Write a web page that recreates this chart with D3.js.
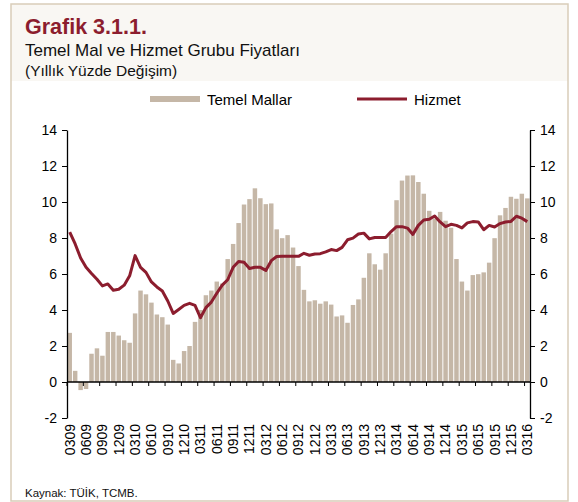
<!DOCTYPE html>
<html>
<head>
<meta charset="utf-8">
<script src="https://cdn.jsdelivr.net/npm/d3@7"></script>
<style>
  body { margin: 0; background: #fff; }
  svg { display: block; font-family: "Liberation Sans", Arial, sans-serif; }
  .axis text { font-size: 14px; fill: #000; }
  .axis path, .axis line { stroke: #000; }
  .x-label { font-size: 14px; fill: #000; }
  .legend-text { font-size: 15px; fill: #000; }
</style>
</head>
<body>
<div id="wrapper"></div>
<script>
// data: monthly, 2009-03 .. 2016-03 (annual % change)
const temelMallar = [
  2.73, 0.62, -0.45, -0.39, 1.57, 1.87, 1.46, 2.78, 2.78, 2.58, 2.32, 2.18,
  3.81, 5.08, 4.87, 4.41, 3.75, 3.60, 3.19, 1.23, 1.03, 1.72, 2.00, 3.34,
  4.00, 4.82, 5.08, 5.58, 5.47, 6.83, 7.67, 8.83, 9.86, 10.16, 10.76, 10.21,
  9.88, 9.92, 8.48, 7.99, 8.16, 7.47, 6.44, 5.12, 4.48, 4.54, 4.35, 4.48,
  4.30, 3.64, 3.70, 3.29, 4.28, 4.59, 5.79, 7.15, 6.54, 6.24, 7.15, 8.24,
  10.10, 11.19, 11.47, 11.48, 11.11, 10.46, 9.51, 9.08, 9.45, 8.96, 8.57, 6.83,
  5.58, 5.08, 5.94, 5.99, 6.09, 6.63, 7.99, 9.26, 9.67, 10.29, 10.18, 10.46,
  10.20,
];
const hizmet = [
  8.33, 7.67, 6.89, 6.37, 6.03, 5.71, 5.34, 5.45, 5.10, 5.15, 5.38, 5.90,
  7.02, 6.37, 6.09, 5.56, 5.28, 5.06, 4.50, 3.81, 4.03, 4.26, 4.37, 4.26,
  3.57, 4.13, 4.44, 4.93, 5.38, 5.68, 6.37, 6.69, 6.65, 6.31, 6.37, 6.37,
  6.20, 6.74, 6.97, 6.98, 6.98, 6.98, 6.98, 7.15, 7.04, 7.11, 7.13, 7.23,
  7.36, 7.30, 7.48, 7.90, 7.99, 8.22, 8.27, 7.95, 8.03, 8.03, 8.03, 8.36,
  8.63, 8.63, 8.55, 8.20, 8.70, 9.00, 9.04, 9.22, 8.89, 8.63, 8.76, 8.70,
  8.56, 8.84, 8.91, 8.89, 8.46, 8.70, 8.61, 8.80, 8.89, 8.92, 9.21, 9.10,
  8.91,
];
const tickLabels = [
  "0309", "0609", "0909", "1209", "0310", "0610", "0910", "1210",
  "0311", "0611", "0911", "1211", "0312", "0612", "0912", "1212",
  "0313", "0613", "0913", "1213", "0314", "0614", "0914", "1214",
  "0315", "0615", "0915", "1215", "0316",
];
const yTicks = [-2, 0, 2, 4, 6, 8, 10, 12, 14];

function drawChart() {
  const months = d3.timeMonth.range(new Date(2009, 2, 1), new Date(2016, 3, 1));
  const formatMonth = d3.timeFormat("%m%y");

  let dimensions = {
    width: 578,
    height: 502,
    plot: { left: 67, right: 530, top: 130, bottom: 418 },
  };

  const svg = d3
    .select("#wrapper")
    .append("svg")
    .attr("width", dimensions.width)
    .attr("height", dimensions.height);

  // frame + header band
  svg.append("rect")
    .attr("x", 11).attr("y", 4)
    .attr("width", 557).attr("height", 77)
    .attr("fill", "#f9f7f3");
  svg.append("rect")
    .attr("x", 11).attr("y", 4)
    .attr("width", 557).attr("height", 497)
    .attr("fill", "none")
    .attr("stroke", "#d9cdb9")
    .attr("stroke-width", 1.5);

  svg.append("text")
    .attr("x", 25).attr("y", 34)
    .style("font-size", "21.5px")
    .style("font-weight", "bold")
    .attr("fill", "#8c1d2e")
    .text("Grafik 3.1.1.");
  svg.append("text")
    .attr("x", 25).attr("y", 56)
    .style("font-size", "17px")
    .attr("fill", "#111")
    .text("Temel Mal ve Hizmet Grubu Fiyatları");
  svg.append("text")
    .attr("x", 25).attr("y", 76)
    .style("font-size", "15.5px")
    .attr("fill", "#111")
    .text("(Yıllık Yüzde Değişim)");

  // scales
  const x = d3
    .scaleBand()
    .domain(months)
    .range([dimensions.plot.left, dimensions.plot.right])
    .paddingInner(0.18)
    .paddingOuter(0.09);
  const step = x.step();
  const x0 = dimensions.plot.left;

  const y = d3
    .scaleLinear()
    .domain([-2, 14])
    .range([dimensions.plot.bottom, dimensions.plot.top]);

  // bars
  svg.append("g")
    .selectAll("rect")
    .data(temelMallar)
    .join("rect")
    .attr("x", (d, i) => x(months[i]))
    .attr("width", x.bandwidth())
    .attr("y", (d) => y(Math.max(0, d)))
    .attr("height", (d) => Math.abs(y(d) - y(0)))
    .attr("fill", "#c5b7a7");

  // line
  const line = d3
    .line()
    .x((d, i) => x(months[i]) + x.bandwidth() / 2)
    .y((d) => y(d));
  svg.append("path")
    .datum(hizmet)
    .attr("d", line)
    .attr("fill", "none")
    .attr("stroke", "#8c1d2e")
    .attr("stroke-width", 3)
    .attr("stroke-linejoin", "round");

  // y axes (plain hyphen for negatives, like the original)
  const fmt = (d) => String(d);
  svg.append("g")
    .attr("class", "axis")
    .attr("transform", `translate(${dimensions.plot.left},0)`)
    .call(d3.axisLeft(y).tickValues(yTicks).tickFormat(fmt).tickSize(5).tickPadding(5).tickSizeOuter(0));
  svg.append("g")
    .attr("class", "axis")
    .attr("transform", `translate(${dimensions.plot.right},0)`)
    .call(d3.axisRight(y).tickValues(yTicks).tickFormat(fmt).tickSize(5).tickPadding(5).tickSizeOuter(0));
  svg.selectAll(".axis .domain").attr("stroke-width", 1.3);

  // zero line with category ticks every 3 months
  const zeroY = y(0);
  svg.append("line")
    .attr("x1", dimensions.plot.left).attr("x2", dimensions.plot.right)
    .attr("y1", zeroY).attr("y2", zeroY)
    .attr("stroke", "#000").attr("stroke-width", 1.3);
  const tickIdx = d3.range(0, months.length, 3);
  svg.append("g")
    .selectAll("line")
    .data(tickIdx)
    .join("line")
    .attr("x1", (i) => x0 + i * step)
    .attr("x2", (i) => x0 + i * step)
    .attr("y1", zeroY)
    .attr("y2", zeroY + 4)
    .attr("stroke", "#000");

  // rotated month labels
  svg.append("g")
    .selectAll("text")
    .data(tickIdx)
    .join("text")
    .attr("class", "x-label")
    .attr("text-anchor", "end")
    .attr("dy", "0.35em")
    .attr("transform", (i) =>
      `translate(${x(months[i]) + x.bandwidth() / 2},${dimensions.plot.bottom + 6}) rotate(-90)`)
    .text((i, k) => tickLabels[k] || formatMonth(months[i]));

  // legend
  const legend = svg.append("g");
  legend.append("rect")
    .attr("x", 150).attr("y", 96)
    .attr("width", 50).attr("height", 6)
    .attr("fill", "#c5b7a7");
  legend.append("text")
    .attr("class", "legend-text")
    .attr("x", 207).attr("y", 104.5)
    .text("Temel Mallar");
  legend.append("line")
    .attr("x1", 357).attr("x2", 407)
    .attr("y1", 99).attr("y2", 99)
    .attr("stroke", "#8c1d2e").attr("stroke-width", 3);
  legend.append("text")
    .attr("class", "legend-text")
    .attr("x", 414).attr("y", 104.5)
    .text("Hizmet");

  // source
  svg.append("text")
    .attr("x", 25).attr("y", 497)
    .style("font-size", "11.5px")
    .attr("fill", "#111")
    .text("Kaynak: TÜİK, TCMB.");
}
drawChart();
</script>
</body>
</html>
